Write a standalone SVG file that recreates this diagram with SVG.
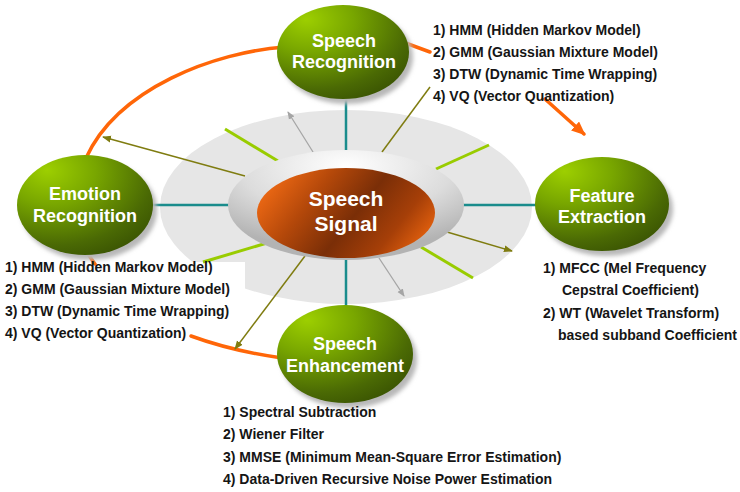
<svg xmlns="http://www.w3.org/2000/svg" width="740" height="492" viewBox="0 0 740 492">
<defs>
  <style>
    .nodeTxt{font-family:"Liberation Sans",Arial,sans-serif;font-weight:bold;font-size:18px;fill:#ffffff;text-anchor:middle}
    .sigTxt{font-family:"Liberation Sans",Arial,sans-serif;font-weight:bold;font-size:21px;fill:#ffffff;text-anchor:middle}
    .list{font-family:"Liberation Sans",Arial,sans-serif;font-weight:bold;font-size:14px;fill:#151515}
    .teal{stroke:#1a8c8c;stroke-width:2.5;fill:none}
    .lime{stroke:#99cc00;stroke-width:3;fill:none}
    .grayA{stroke:#a5a5a5;stroke-width:1.3;fill:none;marker-end:url(#mGray)}
    .olive{stroke:#7f7c10;stroke-width:1.5;fill:none}
    .oliveA{stroke:#7f7c10;stroke-width:1.5;fill:none;marker-end:url(#mOlive)}
    .orange{stroke:#ff6608;stroke-width:3.5;fill:none;stroke-linecap:round}
    .shadow{fill:#b8b8b8;filter:url(#blur)}
    .gnode{fill:url(#gNode)}
  </style>
  <radialGradient id="gNode" cx="0.3" cy="0.2" r="0.95" fx="0.22" fy="0.15">
    <stop offset="0" stop-color="#9dcf00"/>
    <stop offset="0.35" stop-color="#78a600"/>
    <stop offset="0.75" stop-color="#4a6904"/>
    <stop offset="1" stop-color="#354d02"/>
  </radialGradient>
  <radialGradient id="gRing" cx="0.5" cy="0.15" r="0.75">
    <stop offset="0" stop-color="#ffffff"/>
    <stop offset="0.6" stop-color="#dcdcdc"/>
    <stop offset="1" stop-color="#b3b3b3"/>
  </radialGradient>
  <linearGradient id="gSig" x1="0" y1="0.3" x2="1" y2="0.7">
    <stop offset="0" stop-color="#f06a14"/>
    <stop offset="0.28" stop-color="#b4480a"/>
    <stop offset="0.55" stop-color="#7a2e07"/>
    <stop offset="0.8" stop-color="#a63f08"/>
    <stop offset="1" stop-color="#e6620e"/>
  </linearGradient>
  <filter id="blur" x="-20%" y="-20%" width="140%" height="140%">
    <feGaussianBlur stdDeviation="2"/>
  </filter>
  <marker id="mGray" markerUnits="userSpaceOnUse" markerWidth="8" markerHeight="8" viewBox="0 0 8 8" refX="7" refY="4" orient="auto">
    <path d="M0,0.8 L8,4 L0,7.2 Z" fill="#a5a5a5"/>
  </marker>
  <marker id="mOlive" markerUnits="userSpaceOnUse" markerWidth="9" markerHeight="8" viewBox="0 0 9 8" refX="8" refY="4" orient="auto">
    <path d="M0,0.5 L9,4 L0,7.5 Z" fill="#7f7c10"/>
  </marker>
  <marker id="mOrange" markerUnits="userSpaceOnUse" markerWidth="14" markerHeight="12" viewBox="0 0 14 12" refX="12" refY="6" orient="auto">
    <path d="M0,0 L14,6 L0,12 Z" fill="#ff6608"/>
  </marker>
</defs>

<g id="backdrop">
  <ellipse cx="346" cy="207" rx="186" ry="97" fill="#e6e6e6"/>
  <rect x="0" y="262" width="245" height="90" fill="#ffffff"/>
</g>

<g id="connectors">
  <path class="orange" d="M285,47 C215,52 118,88 86,158"/>
  <path class="orange" d="M400,41 L430,52"/>
  <path class="orange" d="M545,99 L584,134" marker-end="url(#mOrange)"/>
  <path class="orange" d="M84,248 Q90,257 95,264"/>
  <path class="orange" d="M191,336 Q232,351 282,358"/>

  <line class="teal" x1="346" y1="97" x2="346" y2="152"/>
  <line class="teal" x1="150" y1="205" x2="230" y2="205"/>
  <line class="teal" x1="462" y1="205" x2="538" y2="205"/>
  <line class="teal" x1="346" y1="258" x2="346" y2="308"/>

  <line class="lime" x1="225" y1="129" x2="278" y2="161"/>
  <line class="lime" x1="436" y1="169" x2="489" y2="145"/>
  <line class="lime" x1="203" y1="262" x2="267" y2="243"/>
  <line class="lime" x1="421" y1="247" x2="473" y2="278"/>

  <line class="grayA" x1="313" y1="152" x2="288" y2="112"/>
  <line class="grayA" x1="379" y1="258" x2="404" y2="296"/>

  <line class="oliveA" x1="245" y1="176" x2="103" y2="137"/>
  <line class="olive" x1="382" y1="152" x2="430" y2="87"/>
  <line class="oliveA" x1="447" y1="232" x2="512" y2="251"/>
  <line class="oliveA" x1="305" y1="256" x2="235" y2="349"/>
</g>

<g id="speech-signal">
  <ellipse cx="346" cy="205" rx="118" ry="55" fill="url(#gRing)"/>
  <ellipse cx="346" cy="213" rx="89" ry="45" fill="url(#gSig)"/>
  <text class="sigTxt" x="346" y="206">Speech</text>
  <text class="sigTxt" x="346" y="231">Signal</text>
</g>

<g id="speech-recognition">
  <ellipse class="shadow" cx="347" cy="57" rx="66" ry="47"/>
  <ellipse class="gnode" cx="343" cy="52" rx="66" ry="47"/>
  <text class="nodeTxt" x="344" y="47">Speech</text>
  <text class="nodeTxt" x="344" y="68">Recognition</text>
  <text class="list" x="433" y="35">1) HMM (Hidden Markov Model)</text>
  <text class="list" x="433" y="57">2) GMM (Gaussian Mixture Model)</text>
  <text class="list" x="433" y="79">3) DTW (Dynamic Time Wrapping)</text>
  <text class="list" x="433" y="101">4) VQ (Vector Quantization)</text>
</g>

<g id="emotion-recognition">
  <ellipse class="shadow" cx="89" cy="210" rx="68" ry="50"/>
  <ellipse class="gnode" cx="85" cy="205" rx="68" ry="50"/>
  <text class="nodeTxt" x="85" y="200">Emotion</text>
  <text class="nodeTxt" x="85" y="222">Recognition</text>
  <text class="list" x="5" y="272">1) HMM (Hidden Markov Model)</text>
  <text class="list" x="5" y="294">2) GMM (Gaussian Mixture Model)</text>
  <text class="list" x="5" y="316">3) DTW (Dynamic Time Wrapping)</text>
  <text class="list" x="5" y="338">4) VQ (Vector Quantization)</text>
</g>

<g id="feature-extraction">
  <ellipse class="shadow" cx="606" cy="209" rx="67" ry="47"/>
  <ellipse class="gnode" cx="602" cy="204" rx="67" ry="47"/>
  <text class="nodeTxt" x="602" y="202">Feature</text>
  <text class="nodeTxt" x="602" y="223">Extraction</text>
  <text class="list" x="543" y="273">1) MFCC (Mel Frequency</text>
  <text class="list" x="562" y="295">Cepstral Coefficient)</text>
  <text class="list" x="543" y="318">2) WT (Wavelet Transform)</text>
  <text class="list" x="558" y="340">based subband Coefficient</text>
</g>

<g id="speech-enhancement">
  <ellipse class="shadow" cx="349" cy="359" rx="68" ry="49"/>
  <ellipse class="gnode" cx="345" cy="354" rx="68" ry="49"/>
  <text class="nodeTxt" x="345" y="350">Speech</text>
  <text class="nodeTxt" x="345" y="372">Enhancement</text>
  <text class="list" x="223" y="417">1) Spectral Subtraction</text>
  <text class="list" x="223" y="439">2) Wiener Filter</text>
  <text class="list" x="223" y="462">3) MMSE (Minimum Mean-Square Error Estimation)</text>
  <text class="list" x="223" y="484">4) Data-Driven Recursive Noise Power Estimation</text>
</g>
</svg>
